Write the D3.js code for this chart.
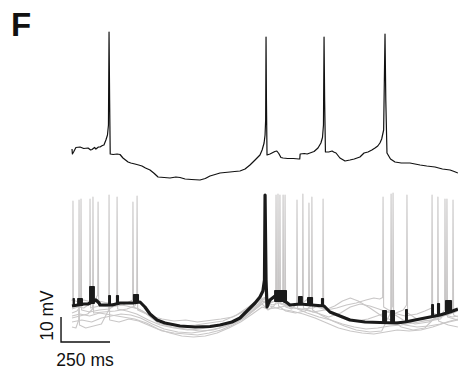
<!DOCTYPE html>
<html>
<head>
<meta charset="utf-8">
<script src="https://cdn.jsdelivr.net/npm/d3@7"></script>
<style>
  html, body { margin: 0; padding: 0; background: #fff; }
  svg { display: block; }
  text { font-family: Arial, "Liberation Sans", sans-serif; fill: #111; }
</style>
</head>
<body>
<svg id="chart" width="458" height="372"></svg>
<script>
// Panel F: single-cell trace (top) and overlaid sweeps with their average (bottom).
// Time in ms, membrane potential in mV.

const panelLabel = "F";
const scaleBarMs = 250;
const scaleBarMv = 10;
const scaleBarLabels = ["250 ms", "10 mV"];

// Top: one continuous recording
const topTrace = [
  [0,-59.6],[2,-61.6],[8,-60.8],[20,-59.0],[41,-58.8],[60,-59.4],[82,-59.2],[95,-60.0],[102,-59.8],
  [115,-59.0],[122,-59.6],[135,-58.8],[143,-58.8],[155,-58.2],[163,-58.0],[173,-56.0],[181,-54],
  [186,-50],[189,-12.8],[192,-40],[195,-61.6],[210,-61.8],[230,-61.6],[245,-61.8],[260,-63.2],
  [286,-64.8],[300,-65.2],[321,-65.6],[340,-66.0],[357,-66.4],[375,-67.2],[398,-68.0],[420,-69.4],
  [439,-70.8],[470,-71.0],[500,-71.2],[530,-70.8],[551,-71.0],[577,-71.6],[610,-71.8],[653,-72.0],
  [680,-71.4],[704,-70.4],[730,-69.8],[755,-69.2],[780,-69.0],[806,-68.8],[830,-68.6],[857,-68.4],
  [883,-67.6],[908,-66.0],[934,-64.0],[949,-62.8],[959,-62.0],[970,-60.0],[980,-57.2],[985,-54],
  [988,-48],[990,-14.8],[992,-40],[995,-62.0],[1010,-61.6],[1020,-61.2],[1035,-60.6],[1045,-60.4],
  [1055,-61.4],[1066,-63.0],[1077,-63.2],[1100,-63.4],[1130,-63.4],[1158,-63.6],[1162,-63.6],
  [1164,-61.6],[1185,-61.4],[1200,-61.6],[1214,-61.2],[1235,-60.6],[1255,-59.2],[1270,-57.2],
  [1278,-55],[1283,-50],[1286,-14.8],[1289,-40],[1293,-60.8],[1310,-60.8],[1327,-60.4],[1335,-60.8],
  [1347,-61.2],[1367,-63.2],[1393,-64.4],[1418,-64.0],[1440,-63.6],[1469,-62.8],[1490,-61.2],
  [1510,-60.8],[1530,-60.0],[1546,-59.2],[1560,-58.4],[1571,-57.2],[1580,-55.6],[1590,-52],
  [1597,-13.6],[1601,-40],[1607,-61.2],[1625,-63.6],[1648,-64.8],[1680,-65.2],[1724,-65.2],
  [1750,-65.6],[1776,-66.0],[1810,-66.4],[1852,-66.8],[1890,-67.6],[1929,-68.0],[1950,-68.6],[1969,-69.2]
];

// Bottom: individual sweeps (grey)
const sweep1 = [
  [0,-58.4],[4,-57],[5,-18.4],[7,-58],[30,-58.8],[60,-58],[90,-58.6],[120,-57.6],[131,-56],[133,-18.8],
  [136,-58.4],[170,-59],[220,-59.6],[280,-60.4],[340,-61.6],[400,-64.4],[460,-65.6],[520,-66.4],
  [580,-66],[640,-66.8],[700,-66.2],[760,-65.6],[820,-64.8],[880,-62.4],[930,-60],[970,-57.6],
  [1000,-58.4],[1020,-57.6],[1039,-56],[1041,-16],[1044,-58.8],[1080,-59.6],[1120,-60],[1160,-59.2],
  [1190,-58.4],[1207,-57.2],[1209,-19.2],[1212,-59.6],[1250,-60.8],[1300,-62],[1350,-61.2],[1400,-60],
  [1450,-59.2],[1500,-58],[1540,-57.2],[1570,-57.6],[1585,-57],[1587,-16.8],[1590,-60.8],[1640,-63.2],
  [1700,-64.4],[1760,-63.6],[1800,-62.4],[1835,-61.2],[1837,-16],[1840,-63.2],[1880,-64.4],[1930,-63.6],[1969,-62.4]
];
const sweep2 = [
  [0,-68.8],[20,-69.2],[34,-66],[36,-18],[38,-68],[70,-69.2],[110,-68.4],[150,-67.6],[187,-62],[189,-16],
  [192,-66],[240,-66.8],[290,-65.6],[340,-66.4],[400,-68.4],[460,-70.4],[520,-71.2],[580,-71.6],[640,-72],
  [700,-71.2],[760,-70],[820,-68],[880,-65.2],[930,-62],[970,-59.6],[1000,-62],[1030,-60.4],[1049,-58],
  [1051,-15.6],[1054,-60.4],[1090,-62.4],[1140,-63.2],[1190,-62.4],[1222,-60],[1224,-16.8],[1227,-62],
  [1270,-64],[1330,-66.4],[1390,-68.4],[1450,-70],[1520,-70.8],[1580,-70.4],[1626,-63],[1628,-15.6],
  [1631,-66],[1680,-68.8],[1740,-70],[1800,-69.2],[1865,-64],[1867,-16.8],[1870,-66.4],[1920,-68],[1969,-68.8]
];
const sweep3 = [
  [0,-63.2],[25,-62.4],[44,-60.4],[46,-17.6],[49,-62],[90,-62.8],[140,-62],[190,-61.6],[228,-59.6],
  [230,-16.8],[233,-61.6],[280,-62.4],[330,-63.6],[390,-66],[450,-68],[520,-69.2],[590,-70],[650,-69.6],
  [720,-68.8],[790,-67.2],[850,-65.6],[900,-62.8],[950,-59.6],[985,-57.2],[1010,-59.2],[1040,-58.4],
  [1059,-57],[1061,-16],[1064,-59.6],[1110,-60.8],[1170,-61.6],[1230,-61.2],[1270,-60],[1279,-58.4],
  [1281,-17.6],[1284,-61.6],[1330,-63.2],[1390,-64.8],[1450,-66.4],[1510,-65.6],[1570,-64],[1620,-62.4],
  [1636,-60.4],[1638,-15.2],[1641,-63.6],[1690,-66],[1750,-67.6],[1820,-66.8],[1880,-64.4],[1901,-62],
  [1903,-17.6],[1906,-64],[1940,-64.8],[1969,-64.4]
];
const sweep4 = [
  [0,-61.6],[30,-60.8],[60,-61.2],[90,-59.6],[92,-17.6],[95,-61.2],[140,-60.4],[200,-60.8],[260,-60],
  [309,-58],[311,-18.8],[314,-60.8],[360,-62.4],[420,-65.6],[490,-67.2],[560,-68.4],[630,-68],[700,-67.2],
  [770,-66.4],[840,-64],[900,-60.8],[950,-58],[990,-56.8],[1020,-58.8],[1050,-58],[1075,-56.4],[1077,-16],
  [1080,-59.6],[1130,-61.2],[1190,-62],[1250,-63.2],[1310,-64.8],[1370,-63.2],[1420,-60.8],[1470,-59.6],
  [1520,-60.4],[1580,-62],[1640,-63.6],[1690,-62],[1707,-60],[1709,-16],[1712,-63.2],[1760,-65.6],
  [1820,-66.4],[1880,-65.6],[1911,-62.4],[1913,-17.6],[1916,-64.8],[1969,-66]
];
const sweep5 = [
  [0,-65.2],[40,-64.4],[80,-63.6],[105,-61.6],[107,-16.8],[110,-63.2],[160,-62.8],[220,-62.4],[280,-61.6],
  [320,-60.4],[330,-59.2],[332,-16.4],[335,-62],[380,-63.6],[440,-67.2],[510,-68.8],[580,-69.6],[650,-70.4],
  [720,-70],[790,-68.4],[850,-66.4],[910,-63.2],[960,-60],[990,-58.4],[1020,-60],[1060,-59.2],[1085,-57.6],
  [1087,-16],[1090,-60.8],[1120,-61.6],[1146,-59.6],[1148,-18],[1151,-61.6],[1200,-63.2],[1260,-64.8],
  [1320,-66],[1380,-67.6],[1440,-68.8],[1500,-69.6],[1560,-69.2],[1620,-68.4],[1680,-68],[1740,-67.2],
  [1800,-66.4],[1860,-65.6],[1920,-63.6],[1942,-61.6],[1944,-18],[1947,-64],[1969,-64.8]
];
const sweep6 = [
  [0,-64.4],[40,-63.6],[90,-64.4],[140,-63.2],[200,-64],[260,-64.8],[320,-65.6],[380,-67.2],[440,-69.6],
  [500,-71.2],[560,-72.4],[620,-72.8],[680,-72.4],[740,-71.2],[800,-69.2],[860,-66.8],[920,-63.6],
  [970,-60.8],[1000,-61.6],[1040,-61.2],[1090,-60.4],[1140,-59.6],[1176,-57.6],[1178,-15.6],[1181,-61.2],
  [1230,-62.8],[1290,-62],[1340,-60.4],[1380,-58.4],[1420,-57.2],[1460,-58.4],[1520,-61.2],[1580,-64.4],
  [1640,-66.4],[1700,-68],[1760,-68.8],[1820,-68.4],[1880,-67.6],[1930,-66.4],[1969,-65.6]
];
const sweep7 = [
  [0,-66.8],[50,-66],[100,-66.8],[150,-65.2],[200,-64.4],[250,-63.6],[300,-64],[350,-65.2],[410,-67.6],
  [470,-69.6],[540,-70.8],[610,-71.2],[680,-70.4],[750,-69.2],[810,-67.6],[870,-65.2],[930,-61.6],
  [975,-58.4],[1010,-60.4],[1060,-61.6],[1120,-62.4],[1180,-63.6],[1240,-65.2],[1300,-67.2],[1360,-69.2],
  [1420,-70.4],[1480,-71.2],[1540,-71.6],[1600,-70.8],[1660,-70],[1720,-70.4],[1780,-70],[1840,-68.8],
  [1900,-67.2],[1969,-66]
];
const sweeps = [sweep1, sweep2, sweep3, sweep4, sweep5, sweep6, sweep7];

// Bottom: average trace (black)
const averageTrace = [
  [0,-60.4],[61,-59.6],[82,-59.6],[122,-58],[138,-59.2],[143,-60],[184,-60],[204,-60],[245,-59.2],
  [311,-59.2],[347,-58.8],[372,-60.8],[398,-63.6],[434,-66],[474,-67.2],[551,-68.4],[628,-68.8],
  [704,-68.6],[755,-68],[816,-66.8],[857,-65.2],[898,-62],[934,-59.2],[959,-56.8],[974,-54.4],
  [982,-50],[985,-16],[990,-50],[995,-60.8],[1010,-58],[1036,-56.4],[1092,-58.8],[1112,-60],
  [1163,-59.6],[1224,-60],[1286,-60.4],[1316,-62.8],[1367,-64.4],[1418,-66],[1495,-66.8],[1571,-67],
  [1653,-67.2],[1699,-66.8],[1750,-66],[1801,-65.2],[1827,-64.8],[1878,-64],[1929,-62.8],[1969,-61.6]
];
// Spike bursts in the average: [start ms, end ms, top mV, base mV]
const averageBursts = [
  [3,15,-57.2,-60.4],[26,56,-57.2,-60.4],[87,117,-52.4,-59.6],[184,199,-56,-60],[224,240,-56,-60],
  [311,342,-55.6,-59.2],[1031,1097,-54,-58.8],[1153,1178,-56.4,-60],[1199,1230,-56.8,-60],
  [1270,1286,-57.2,-60.4],[1582,1607,-62,-67],[1623,1648,-62,-67.2],[1699,1714,-61.6,-66.8],
  [1832,1847,-59.6,-64.8],[1862,1878,-59.2,-64.4],[1903,1939,-58,-63.2]
];

const svg = d3.select("#chart");

const x = d3.scaleLinear().domain([0, 2000]).range([72, 464]);
const yTop = d3.scaleLinear().domain([-80, -10]).range([200, 25]);
const yBot = d3.scaleLinear().domain([-80, -10]).range([355, 180]);

const lineTop = d3.line().x(d => x(d[0])).y(d => yTop(d[1]));
const lineBot = d3.line().x(d => x(d[0])).y(d => yBot(d[1]));

// panel letter
svg.append("text")
  .attr("x", 11).attr("y", 36)
  .attr("font-size", 33).attr("font-weight", "bold")
  .text(panelLabel);

// top recording
svg.append("path")
  .datum(topTrace)
  .attr("d", lineTop)
  .attr("fill", "none")
  .attr("stroke", "#111")
  .attr("stroke-width", 1.2)
  .attr("stroke-linejoin", "round");

// grey sweeps
svg.append("g").selectAll("path")
  .data(sweeps)
  .join("path")
  .attr("d", lineBot)
  .attr("fill", "none")
  .attr("stroke", "#c9c7c7")
  .attr("stroke-width", 1.1)
  .attr("stroke-linejoin", "round");

// average trace
svg.append("path")
  .datum(averageTrace)
  .attr("d", lineBot)
  .attr("fill", "none")
  .attr("stroke", "#1a1a1a")
  .attr("stroke-width", 3.2)
  .attr("stroke-linejoin", "round");

svg.append("g").selectAll("rect")
  .data(averageBursts)
  .join("rect")
  .attr("x", d => x(d[0]))
  .attr("width", d => x(d[1]) - x(d[0]))
  .attr("y", d => yBot(d[2]))
  .attr("height", d => yBot(d[3]) - yBot(d[2]))
  .attr("rx", 0.8)
  .attr("fill", "#1a1a1a");

// scale bar
const barT0 = -56, barV0 = -74.8;
const bx0 = x(barT0), bx1 = x(barT0 + scaleBarMs);
const by0 = yBot(barV0), by1 = yBot(barV0 + scaleBarMv);
svg.append("path")
  .attr("d", `M${bx0},${by1}V${by0}H${bx1}`)
  .attr("fill", "none")
  .attr("stroke", "#111")
  .attr("stroke-width", 1.4);

svg.append("text")
  .attr("x", (bx0 + bx1) / 2 - 0.5)
  .attr("y", by0 + 24)
  .attr("text-anchor", "middle")
  .attr("font-size", 17.5)
  .text(scaleBarLabels[0]);

svg.append("text")
  .attr("transform", `translate(${bx0 - 8},${(by0 + by1) / 2 - 14}) rotate(-90)`)
  .attr("text-anchor", "middle")
  .attr("font-size", 17.5)
  .text(scaleBarLabels[1]);
</script>
</body>
</html>
